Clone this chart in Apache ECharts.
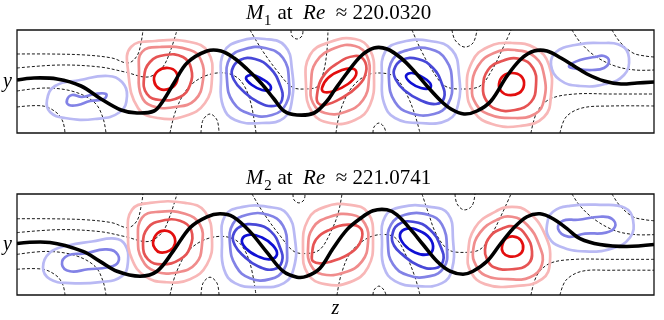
<!DOCTYPE html>
<html>
<head>
<meta charset="UTF-8">
<title>M1 / M2 contours</title>
<script src="https://cdn.jsdelivr.net/npm/echarts@6/dist/echarts.min.js"></script>
<style>
  html, body { margin: 0; padding: 0; background: #fff; }
  #container { width: 664px; height: 320px; }
</style>
</head>
<body>
<div id="container"></div>
<script>
// titles
var titles = ['{i|M}{s|\u2081} at  {i|Re}  \u2248 220.0320', '{i|M}{s|\u2082} at  {i|Re}  \u2248 221.0741'];

// contour levels, outer (weak) -> inner (strong)
var redLevels = ['#f8b7b7', '#f08c8c', '#e65454', '#e30e0e'];
var blueLevels = ['#b9b9f4', '#8282e6', '#4848d8', '#1010d4'];

// ---- panel 1 (z across, y down the box) ----
var black1 = [[17,80],[34,78],[57,79],[81,86],[101,99],[121,110],[137,113],[154,111],[163,101],[174,83],[187,63],[207,51],[221,51],[234,58],[247,69],[261,83],[274,99],[284,111],[297,115],[314,113],[327,101],[334,91],[347,73],[361,56],[374,48],[387,49],[401,58],[414,71],[427,86],[441,101],[451,109],[464,114],[477,111],[491,101],[507,76],[521,59],[534,51],[547,51],[561,58],[574,66],[587,74],[604,81],[621,84],[637,83],[654,82]];

var dash1 = [
  [[17,54],[50,54],[85,55],[112,58],[128,63],[137,56],[141,43],[143,30]],
  [[17,68],[60,65],[100,67],[125,72],[148,77],[162,68],[170,52],[177,30]],
  [[17,91],[47,88],[75,92],[95,103],[103,118],[106,133]],
  [[17,107],[43,106],[57,113],[63,122],[65,133]],
  [[170,133],[176,110],[188,88],[205,76],[225,73],[240,80],[250,100],[256,133]],
  [[201,133],[203,120],[210,114],[217,120],[219,133]],
  [[250,30],[262,50],[278,72],[292,87],[305,89],[318,86],[324,70],[327,50],[328,30]],
  [[291,30],[292,36],[297,39],[302,36],[303,30]],
  [[336,133],[340,112],[350,90],[365,76],[380,73],[395,77],[407,95],[415,115],[420,133]],
  [[373,133],[374,127],[379,123],[384,127],[386,133]],
  [[412,30],[420,48],[432,70],[445,86],[462,89],[480,86],[492,70],[502,50],[511,30]],
  [[452,30],[455,40],[464,47],[473,43],[477,30]],
  [[572,30],[580,42],[595,56],[615,66],[635,70],[654,70]],
  [[612,30],[620,42],[633,53],[645,56],[654,57]],
  [[531,133],[537,112],[550,99],[575,94],[610,94],[654,94]],
  [[560,133],[566,117],[582,108],[610,106],[654,106]]
];

var vort1 = [
  ['b', [
    [[47,100],[55,86],[80,80],[108,76],[122,82],[127,96],[120,112],[95,119],[65,118],[50,112]],
    [[67,100],[72,95],[82,97],[95,94],[106,94],[104,99],[90,101],[78,105],[69,105]]
  ]],
  ['r', [
    [[128,70],[131,47],[155,41],[190,42],[208,52],[212,78],[205,103],[185,116],[158,118],[138,108]],
    [[139,72],[142,52],[160,47],[190,50],[201,60],[203,80],[195,100],[175,107],[152,106],[141,95]],
    [[144,78],[150,62],[165,55],[183,57],[191,68],[190,85],[180,97],[160,100],[147,94]],
    [[154,80],[158,71],[168,68],[176,72],[177,81],[171,88],[160,89]]
  ]],
  ['b', [
    [[221,80],[224,52],[240,41],[265,39],[285,46],[292,70],[292,100],[284,118],[262,123],[235,120],[223,106]],
    [[227,80],[230,58],[245,49],[265,48],[283,58],[289,82],[286,104],[272,115],[250,114],[233,102]],
    [[232,70],[240,60],[255,59],[270,68],[280,85],[282,100],[274,106],[258,102],[242,90],[234,80]],
    [[246,78],[252,75],[262,79],[270,85],[270,90],[262,90],[252,85]]
  ]],
  ['r', [
    [[306,85],[310,55],[330,42],[355,39],[370,50],[374,75],[370,105],[355,120],[330,123],[312,112]],
    [[311,85],[316,62],[335,48],[355,46],[367,56],[369,78],[363,100],[345,112],[325,113],[313,103]],
    [[317,95],[322,78],[338,63],[355,56],[364,60],[366,72],[358,86],[340,99],[325,105],[318,103]],
    [[322,88],[328,78],[342,70],[354,69],[356,75],[348,84],[334,91],[324,92]]
  ]],
  ['b', [
    [[382,80],[385,52],[402,42],[430,41],[452,50],[459,75],[458,105],[448,120],[420,123],[395,118],[384,103]],
    [[389,80],[393,59],[408,50],[430,49],[446,60],[452,82],[448,104],[434,114],[410,113],[395,102]],
    [[394,70],[402,60],[418,59],[433,68],[442,84],[444,98],[436,104],[420,100],[404,90],[396,80]],
    [[406,76],[412,73],[422,77],[430,83],[430,88],[421,88],[411,83]]
  ]],
  ['r', [
    [[467,90],[472,62],[488,47],[512,43],[535,48],[549,65],[551,95],[544,117],[520,126],[492,124],[474,112]],
    [[472,88],[478,66],[494,53],[515,50],[535,57],[544,75],[544,100],[535,114],[512,118],[488,114],[476,104]],
    [[483,88],[488,70],[502,61],[520,59],[533,68],[536,85],[531,102],[515,110],[496,109],[486,100]],
    [[499,84],[503,76],[512,73],[521,76],[524,85],[519,93],[508,95],[501,91]]
  ]],
  ['b', [
    [[551,65],[556,52],[575,45],[600,43],[622,46],[629,58],[624,75],[605,84],[580,86],[560,80]],
    [[569,66],[580,60],[595,57],[604,56],[609,61],[604,68],[592,70],[578,69]]
  ]]
];

// ---- panel 2 ----
var black2 = [[17,244],[50,243],[83,252],[100,262],[117,272],[140,277],[157,272],[173,252],[190,228],[207,217],[220,214],[233,217],[250,232],[267,253],[283,272],[297,278],[307,277],[320,269],[333,249],[347,230],[360,219],[373,211],[387,210],[397,215],[410,229],[423,245],[437,262],[450,272],[463,275],[473,272],[487,262],[500,245],[513,229],[527,217],[540,214],[553,219],[567,229],[580,239],[600,245],[627,247],[654,245]];

var dash2 = [
  [[17,219],[50,219],[85,220],[112,223],[128,228],[137,221],[141,207],[143,194]],
  [[17,233],[60,230],[100,232],[125,237],[148,242],[162,233],[170,216],[177,194]],
  [[17,255],[47,252],[75,256],[95,267],[103,282],[106,296]],
  [[17,270],[43,270],[57,277],[63,286],[65,296]],
  [[170,296],[176,274],[188,252],[205,240],[225,237],[240,244],[250,264],[256,296]],
  [[201,296],[203,284],[210,278],[217,284],[219,296]],
  [[252,194],[264,214],[280,236],[294,252],[308,254],[320,250],[330,234],[338,214],[342,194]],
  [[293,194],[294,200],[299,203],[304,200],[305,194]],
  [[337,296],[341,276],[350,254],[365,240],[380,235],[395,238],[407,258],[415,278],[420,296]],
  [[373,296],[374,291],[379,287],[384,291],[386,296]],
  [[422,194],[428,212],[436,234],[448,250],[462,253],[480,250],[492,234],[502,214],[511,194]],
  [[455,194],[457,204],[464,210],[472,206],[475,194]],
  [[572,194],[580,206],[595,220],[615,231],[635,235],[654,235]],
  [[612,194],[620,206],[633,217],[645,220],[654,221]],
  [[531,296],[537,276],[550,264],[575,260],[610,260],[654,260]],
  [[560,296],[566,281],[582,272],[610,271],[654,271]]
];

var vort2 = [
  ['b', [
    [[43,268],[50,253],[68,246],[92,242],[115,239],[125,245],[128,262],[122,277],[100,283],[70,284],[50,280]],
    [[62,265],[68,256],[85,254],[105,250],[116,253],[118,263],[108,268],[88,270],[70,272]]
  ]],
  ['r', [
    [[128,235],[132,210],[150,203],[185,203],[205,212],[212,240],[207,265],[190,280],[165,283],[145,277],[132,260]],
    [[138,240],[142,218],[158,212],[185,214],[200,225],[202,245],[196,264],[178,273],[155,272],[142,260]],
    [[143,245],[148,228],[162,221],[180,221],[191,230],[190,248],[180,260],[162,265],[148,260]],
    [[153,243],[157,234],[165,231],[173,235],[175,244],[170,251],[160,253],[155,249]]
  ]],
  ['b', [
    [[222,245],[225,216],[243,207],[268,207],[287,214],[295,240],[294,268],[284,284],[258,288],[235,284],[224,270]],
    [[230,245],[233,224],[247,215],[268,215],[283,226],[287,250],[284,270],[270,280],[250,279],[236,267]],
    [[233,236],[240,227],[256,225],[271,232],[280,248],[282,262],[274,270],[258,267],[242,255],[235,246]],
    [[242,240],[250,235],[262,238],[273,246],[277,255],[270,260],[258,257],[246,249]]
  ]],
  ['r', [
    [[303,250],[308,220],[325,207],[350,205],[368,213],[373,240],[368,268],[350,283],[325,285],[308,275]],
    [[308,250],[313,228],[330,217],[352,215],[365,224],[368,243],[362,262],[345,273],[322,275],[311,266]],
    [[312,255],[316,240],[330,230],[348,225],[360,228],[362,238],[355,250],[338,260],[322,264],[313,262]]
  ]],
  ['b', [
    [[382,245],[385,217],[402,207],[430,207],[448,214],[453,240],[452,270],[442,284],[418,287],[395,282],[384,268]],
    [[388,245],[391,225],[405,215],[428,215],[442,225],[447,250],[444,268],[430,277],[408,276],[393,265]],
    [[392,237],[398,225],[413,222],[430,230],[441,248],[443,262],[435,269],[418,266],[401,254],[394,246]],
    [[400,235],[407,229],[419,231],[430,239],[433,249],[428,255],[415,253],[404,245]]
  ]],
  ['r', [
    [[468,255],[475,228],[495,212],[512,207],[528,212],[545,235],[550,262],[542,280],[515,287],[485,285],[471,273]],
    [[473,252],[480,233],[497,220],[512,217],[527,225],[539,245],[542,265],[530,278],[508,280],[485,276],[476,266]],
    [[485,250],[490,237],[502,229],[515,227],[526,236],[532,252],[528,265],[512,270],[494,268],[487,260]],
    [[502,247],[506,239],[514,237],[521,241],[523,250],[518,256],[509,257],[503,253]]
  ]],
  ['b', [
    [[547,225],[553,212],[570,206],[600,205],[625,208],[633,220],[630,238],[612,249],[585,252],[560,247],[549,238]],
    [[558,229],[563,221],[578,220],[600,217],[612,219],[615,227],[606,233],[585,234],[568,237]]
  ]]
];

// one custom series per curve, drawn through the grid's own axes
function curve(pts, gridIdx, closed, color, width, dash, z) {
    return {
        type: 'custom',
        xAxisIndex: gridIdx,
        yAxisIndex: gridIdx,
        data: pts,
        silent: true,
        clip: true,
        z: z,
        renderItem: function (params, api) {
            if (params.dataIndex !== 0) return null;
            var p = pts.map(function (d) { return api.coord(d); });
            return {
                type: closed ? 'polygon' : 'polyline',
                shape: { points: p, smooth: closed ? 0.45 : 0.35 },
                style: { fill: closed ? 'none' : null, stroke: color, lineWidth: width, lineDash: dash || null }
            };
        }
    };
}

var series = [];
[[dash1, vort1, black1], [dash2, vort2, black2]].forEach(function (panel, g) {
    panel[0].forEach(function (d) { series.push(curve(d, g, false, '#000', 0.9, [3, 2], 2)); });
    panel[1].forEach(function (v) {
        var levels = v[0] === 'r' ? redLevels : blueLevels;
        v[1].forEach(function (ring, k) { series.push(curve(ring, g, true, levels[k], 2.7, null, 3)); });
    });
    series.push(curve(panel[2], g, false, '#000', 3.6, null, 4));
});

var serif = 'Liberation Serif';
function titleOpt(text, top) {
    return {
        text: text, left: 241, top: top,
        textStyle: {
            fontFamily: serif, fontSize: 21, fontWeight: 'normal', color: '#000',
            rich: {
                i: { fontFamily: serif, fontSize: 21, fontStyle: 'italic', color: '#000' },
                s: { fontFamily: serif, fontSize: 25, color: '#000' }
            }
        }
    };
}
function hiddenAxis(extra) {
    var a = {
        type: 'value', axisLine: { show: false }, axisTick: { show: false },
        axisLabel: { show: false }, splitLine: { show: false }
    };
    for (var k in extra) a[k] = extra[k];
    return a;
}
var nameStyle = { fontFamily: serif, fontStyle: 'italic', fontSize: 20, color: '#000' };

var chart = echarts.init(document.getElementById('container'));
chart.setOption({
    animation: false,
    backgroundColor: '#fff',
    title: [titleOpt(titles[0], -4), titleOpt(titles[1], 161)],
    grid: [
        { left: 17, top: 30, width: 637, height: 103, show: true, borderColor: '#111', borderWidth: 1.3 },
        { left: 17, top: 194, width: 637, height: 102, show: true, borderColor: '#111', borderWidth: 1.3 }
    ],
    xAxis: [
        hiddenAxis({ gridIndex: 0, min: 17, max: 654 }),
        hiddenAxis({ gridIndex: 1, min: 17, max: 654, name: 'z', nameLocation: 'middle', nameGap: 4, nameTextStyle: nameStyle })
    ],
    yAxis: [
        hiddenAxis({ gridIndex: 0, min: 30, max: 133, inverse: true, name: 'y', nameLocation: 'middle', nameGap: 5, nameRotate: 0, nameTextStyle: nameStyle }),
        hiddenAxis({ gridIndex: 1, min: 194, max: 296, inverse: true, name: 'y', nameLocation: 'middle', nameGap: 5, nameRotate: 0, nameTextStyle: nameStyle })
    ],
    series: series
});
</script>
</body>
</html>
